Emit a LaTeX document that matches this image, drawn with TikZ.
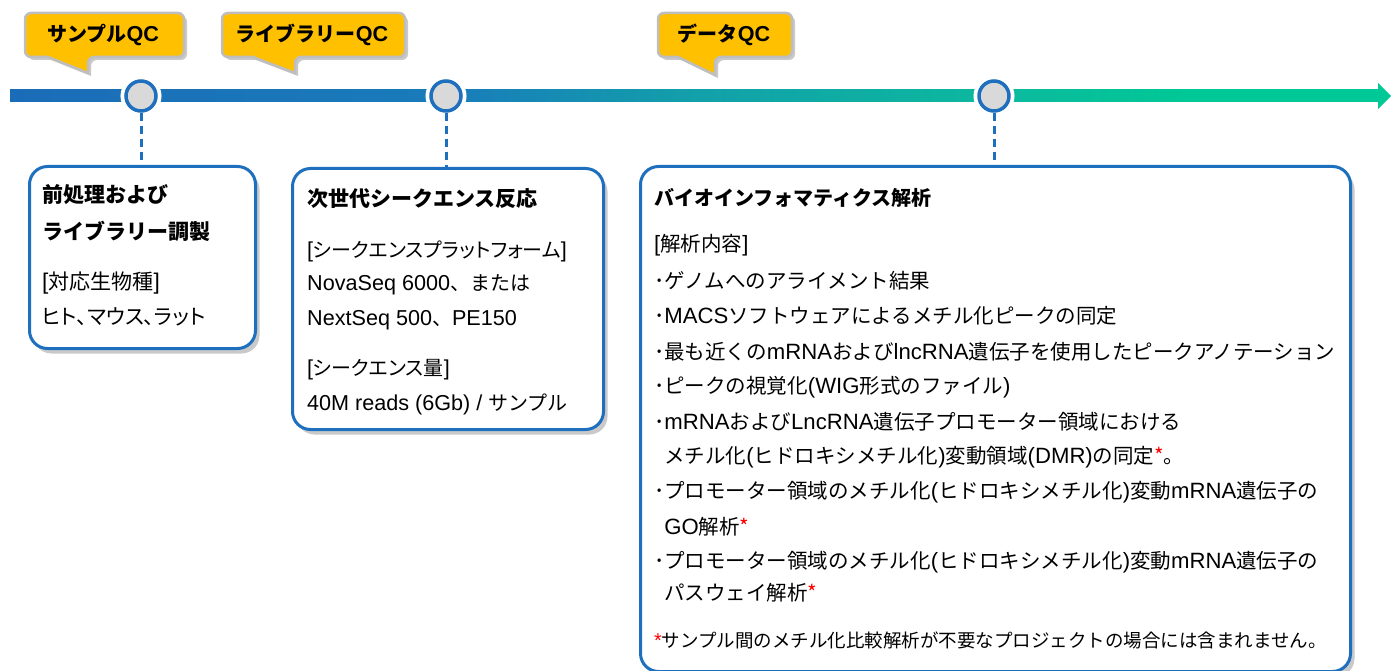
\documentclass[tikz,border=0pt]{standalone}
\usepackage{fontspec}
\setmainfont{Liberation Sans}[Scale=1.08]
\newfontfamily\jpfam{Noto Sans CJK JP}
\newfontfamily\jpp{Noto Sans CJK JP}[RawFeature=+palt]
\let\jpsel\jpfam
\newcommand\useprop{\let\jpsel\jpp}
\XeTeXinterchartokenstate=1
\newXeTeXintercharclass\jpcls
\newcount\cc
\cc="3000 \loop \XeTeXcharclass\cc=\jpcls \ifnum\cc<"30FF \advance\cc by 1 \repeat
\cc="4E00 \loop \XeTeXcharclass\cc=\jpcls \ifnum\cc<"9FFF \advance\cc by 1 \repeat
\cc="FF00 \loop \XeTeXcharclass\cc=\jpcls \ifnum\cc<"FFEF \advance\cc by 1 \repeat
\XeTeXinterchartoks 0 \jpcls = {\jpsel}
\XeTeXinterchartoks 4095 \jpcls = {\jpsel}
\XeTeXinterchartoks \jpcls 0 = {\rmfamily}
\usetikzlibrary{shadows}
\definecolor{boxblue}{RGB}{30,112,190}
\definecolor{qcyellow}{RGB}{255,192,0}
\definecolor{qcgray}{RGB}{190,190,190}
\definecolor{dotgray}{RGB}{217,217,217}
\definecolor{lgreen}{RGB}{0,200,150}
\definecolor{tla}{RGB}{27,108,184}
\definecolor{tlb}{RGB}{25,124,186}
\definecolor{tlc}{RGB}{18,160,170}
\definecolor{tld}{RGB}{12,185,158}
\pgfdeclarehorizontalshading{tlshade}{100bp}{color(0bp)=(tla); color(25bp)=(tla); color(41bp)=(tlb); color(50bp)=(tlc); color(61bp)=(tld); color(68bp)=(lgreen); color(100bp)=(lgreen)}
\begin{document}
\begin{tikzpicture}[x=1pt,y=-1pt,
  box/.style={draw=boxblue, line width=3pt, rounded corners=18pt, fill=white,
    drop shadow={shadow xshift=4pt, shadow yshift=-5pt, opacity=0.3, fill=black!70}},
  dot/.style={circle, minimum size=30pt, inner sep=0pt, fill=dotgray, draw=boxblue, line width=3.5pt,
    preaction={draw=white, line width=11pt}},
  conn/.style={draw=boxblue, line width=3pt, dash pattern=on 8pt off 5pt},
  callout/.style={fill=qcyellow, draw=qcgray, line width=2.5pt,
    drop shadow={shadow xshift=3pt, shadow yshift=-3pt, opacity=0.3, fill=black!70}},
  qct/.style={inner sep=0pt, font=\fontsize{20}{24}\selectfont\bfseries},
  txt/.style={anchor=west, inner sep=0pt, font=\fontsize{20.5}{24}\selectfont},
  txtb/.style={anchor=west, inner sep=0pt, font=\fontsize{20}{24}\selectfont},
  txtbp/.style={anchor=west, inner sep=0pt, font=\fontsize{20}{24}\selectfont\useprop},
  txta/.style={anchor=west, inner sep=0pt, font=\fontsize{21}{25}\selectfont},
  txtap/.style={anchor=west, inner sep=0pt, font=\fontsize{21}{25}\selectfont\useprop},
  ttl/.style={anchor=west, inner sep=0pt, font=\fontsize{21}{25}\selectfont\bfseries},
  ttlc/.style={anchor=west, inner sep=0pt, font=\fontsize{20}{24}\selectfont\bfseries},
  note/.style={anchor=west, inner sep=0pt, font=\fontsize{18.5}{22}\selectfont}]
\useasboundingbox (0,0) rectangle (1400,671);
% timeline
\shade[shading=tlshade] (10,90) rectangle (1380,102);
\fill[lgreen] (1378,83) -- (1391,96) -- (1378,109) -- cycle;
% callouts
\draw[callout, rounded corners=6pt] (25,13) -- (184,13) -- (184,57) -- (88,57) [sharp corners] -- (88,73) -- (48,57) [rounded corners=6pt] -- (25,57) -- cycle;
\node[qct] (c1) at (103,35) {サンプルQC};
\draw[callout, rounded corners=6pt] (222,13) -- (405,13) -- (405,57) -- (295,57) [sharp corners] -- (295,73) -- (253,57) [rounded corners=6pt] -- (222,57) -- cycle;
\node[qct] (c2) at (312,35) {ライブラリーQC};
\draw[callout, rounded corners=6pt] (658,13) -- (792,13) -- (792,57) -- (715,57) [sharp corners] -- (715,75) -- (678,57) [rounded corners=6pt] -- (658,57) -- cycle;
\node[qct] (c3) at (724,35) {データQC};
% boxes
\node[box, minimum width=226pt, minimum height=182pt, anchor=north west] (b1) at (28,165) {};
\node[box, minimum width=311pt, minimum height=261pt, anchor=north west] (b2) at (291,167) {};
\node[box, minimum width=710pt, minimum height=505pt, anchor=north west] (b3) at (639,165) {};
% dots
\node[dot] (d1) at (141,96) {};
\node[dot] (d2) at (446,96) {};
\node[dot] (d3) at (994,96) {};
\draw[conn] (d1.south) -- (d1.south |- b1.north);
\draw[conn] (d2.south) -- (d2.south |- b2.north);
\draw[conn] (d3.south) -- (d3.south |- b3.north);
% box 1 text
\node[ttl] (t11) at (42,195) {前処理および};
\node[ttl] (t12) at (42,231) {ライブラリー調製};
\node[txta] (t13) at (42,283) {[対応生物種]};
\node[txtap] (t14) at (42,317) {ヒト、マウス、ラット};
% box 2 text
\node[ttl] (t21) at (307,199) {次世代シークエンス反応};
\node[txtbp] (t22) at (307,251) {[シークエンスプラットフォーム]};
\node[txtb] (t23) at (307,285) {NovaSeq 6000、または};
\node[txtb] (t24) at (307,320) {NextSeq 500、PE150};
\node[txtbp] (t25) at (307,370) {[シークエンス量]};
\node[txtb] (t26) at (307,404) {40M reads (6Gb) / サンプル};
% box 3 text
\node[ttlc] (t31) at (654,198) {バイオインフォマティクス解析};
\node[txt] (t32) at (654,245) {[解析内容]};
\node[txt] (t33) at (654,281) {･ゲノムへのアライメント結果};
\node[txt] (t34) at (654,316) {･MACSソフトウェアによるメチル化ピークの同定};
\node[txt] (t35) at (654,352) {･最も近くのmRNAおよびlncRNA遺伝子を使用したピークアノテーション};
\node[txt] (t36) at (654,387) {･ピークの視覚化(WIG形式のファイル)};
\node[txt] (t37) at (654,422) {･mRNAおよびLncRNA遺伝子プロモーター領域における};
\node[txt] (t38) at (654,457) {\phantom{･}メチル化(ヒドロキシメチル化)変動領域(DMR)の同定\textcolor{red}{*}。};
\node[txt] (t39) at (654,492) {･プロモーター領域のメチル化(ヒドロキシメチル化)変動mRNA遺伝子の};
\node[txt] (t3a) at (654,527) {\phantom{･}GO解析\textcolor{red}{*}};
\node[txt] (t3b) at (654,562) {･プロモーター領域のメチル化(ヒドロキシメチル化)変動mRNA遺伝子の};
\node[txt] (t3c) at (654,593) {\phantom{･}パスウェイ解析\textcolor{red}{*}};
\node[note] (t3d) at (654,640) {\textcolor{red}{*}サンプル間のメチル化比較解析が不要なプロジェクトの場合には含まれません。};
\end{tikzpicture}
\end{document}
